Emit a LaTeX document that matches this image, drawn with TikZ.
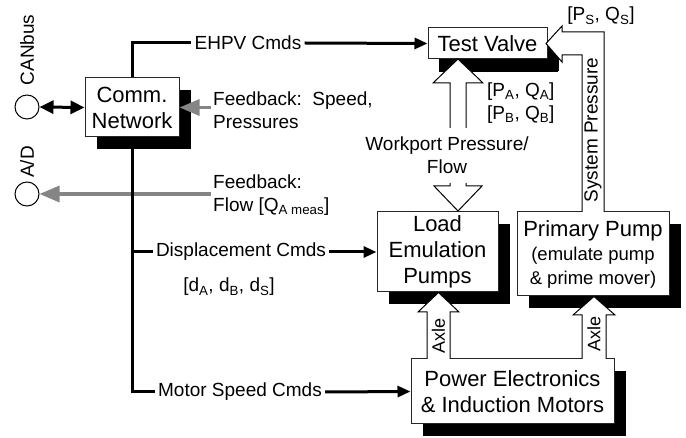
\documentclass[tikz,border=0pt]{standalone}
\usepackage{fontspec}
\setmainfont{Liberation Sans}
\usetikzlibrary{arrows.meta,shadows,calc}
\definecolor{fbgray}{HTML}{858585}
\begin{document}
\begin{tikzpicture}[x=1pt,y=-1pt,
  box/.style={draw=black!85, line width=1pt, fill=white, inner sep=0pt, align=center,
    font=\fontsize{22}{26}\selectfont,
    drop shadow={shadow xshift=12pt, shadow yshift=-12pt, opacity=1, fill=black}},
  lbl/.style={inner sep=3pt, font=\fontsize{19}{23}\selectfont},
  bus/.style={line width=3pt},
  cmd/.style={line width=3pt, -{Triangle[length=13pt,width=11pt]}},
  fb/.style={line width=3.2pt, draw=fbgray, -{Triangle[length=20pt,width=16pt]}, fbgray},
  blk/.style={draw=black, line width=1pt, fill=white, line join=miter},
  port/.style={circle, draw=black, line width=1pt, minimum size=24pt, inner sep=0pt}
]
\useasboundingbox (0,0) rectangle (686,438);

% boxes
\node[box, minimum width=94pt, minimum height=59pt] (comm) at (132,107.5) {Comm.\\Network};
\node[box, minimum width=119pt, minimum height=31pt,
  drop shadow={shadow xshift=11pt, shadow yshift=-13pt, opacity=1, fill=black}] (tv) at (487.5,43.5) {Test Valve};
\node[box, minimum width=121pt, minimum height=80pt] (load) at (437.5,252) {Load\\Emulation\\Pumps};
\node[box, minimum width=152pt, minimum height=84pt] (pp) at (593,254)
  {Primary Pump\\[-2pt]\fontsize{18.5}{23}\selectfont(emulate pump\\[-2pt]\fontsize{18.5}{23}\selectfont\& prime mover)};
\node[box, minimum width=203pt, minimum height=65pt] (pe) at (512.5,391.5) {Power Electronics\\\& Induction Motors};

% ports
\node[port] (can) at (27,107) {};
\node[port] (ad) at (27,194) {};
\node[lbl, rotate=90] (cantxt) at (27,50) {CANbus};
\node[lbl, rotate=90] (adtxt) at (27,162) {A/D};

% labels
\node[lbl] (ehpv) at (248,43) {EHPV Cmds};
\node[lbl] (disp) at (241,252) {Displacement Cmds};
\node[lbl] (motor) at (240,392) {Motor Speed Cmds};
\node[lbl] (dvec) at (229,287) {[d\textsubscript{A}, d\textsubscript{B}, d\textsubscript{S}]};
\node[lbl, anchor=west, align=left, inner sep=2pt] (fb1) at (211,110.5) {Feedback:\ \ Speed,\\Pressures};
\node[lbl, anchor=west, align=left, inner sep=2pt] (fb2) at (211,195) {Feedback:\\Flow [Q\textsubscript{A meas}]};
\node[lbl, align=center] (wp) at (447,155) {Workport Pressure/\\Flow};
\node[lbl, anchor=west, align=left] (pab) at (484,103) {[P\textsubscript{A}, Q\textsubscript{A}]\\{}[P\textsubscript{B}, Q\textsubscript{B}]};
\node[lbl] (ps) at (601,16) {[P\textsubscript{S}, Q\textsubscript{S}]};

% feedback (gray) arrows
\draw[fb] (fb1.west |- comm.east) -- (comm.east);
\draw[fb] (fb2.west |- ad.east) -- (ad.east);

% CAN link
\draw[line width=3pt, {Triangle[length=14pt,width=13pt]}-{Triangle[length=14pt,width=13pt]}] (can.east) -- (comm.west);

% command bus
\draw[bus] (comm.north) |- (ehpv.west);
\draw[cmd] (ehpv.east) -- (tv.west);
\draw[bus] (comm.south) -- (comm.south |- motor.west) -- (motor.west);
\draw[bus] (comm.south |- disp.west) -- (disp.west);
\draw[cmd] (disp.east) -- (load.west);
\draw[cmd] (motor.east) -- (pe.west);

% block arrows
% workport up
\draw[blk] (450,128) -- (450,83) -- (433,83) -- (458,59) -- (483,83) -- (466,83) -- (466,128);
% workport down
\draw[blk] (450,183) -- (450,186) -- (434,186) -- (458,211) -- (482,186) -- (466,186) -- (466,183);
% axle left
\draw[blk] (427,359) -- (427,312) -- (418,312) -- (438.5,292.5) -- (459,312) -- (450,312) -- (450,359);
% axle right
\draw[blk] (582,359) -- (582,315) -- (573,315) -- (594,296.5) -- (615,315) -- (606,315) -- (606,359);
% system pressure
\draw[blk] (604,212) -- (604,32) -- (562,32) -- (562,26) -- (546,43.5) -- (562,62) -- (562,55) -- (582,55) -- (582,212);

\node[font=\fontsize{18}{20}\selectfont, rotate=90, inner sep=0pt] (ax1) at (438.5,336) {Axle};
\node[font=\fontsize{18}{20}\selectfont, rotate=90, inner sep=0pt] (ax2) at (594,334) {Axle};
\node[font=\fontsize{19}{22}\selectfont, rotate=90, inner sep=0pt] (sp) at (593,130) {System Pressure};
\end{tikzpicture}
\end{document}
